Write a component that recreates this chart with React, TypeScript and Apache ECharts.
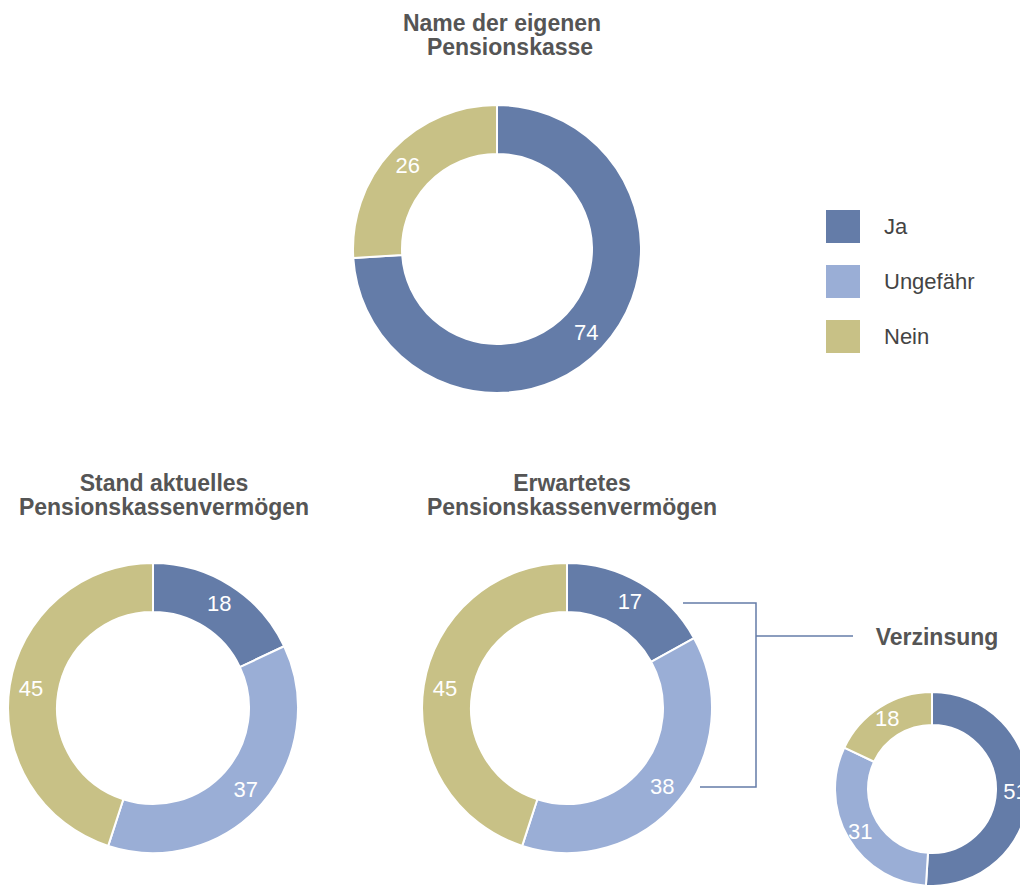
import React, { useEffect, useRef } from "react";
import * as echarts from "echarts";

const categories = ["Ja", "Ungefähr", "Nein"];
const colors = ["#647ca8", "#9aaed6", "#c8c186"];

const nameEigenePK = [74, null, 26];
const standAktuell = [18, 37, 45];
const erwartet = [17, 38, 45];
const verzinsung = [51, 31, 18];

const FONT = "'Liberation Sans', Arial, Helvetica, sans-serif";

function pieData(values: (number | null)[]) {
  return values
    .map((v, i) => (v == null ? null : { name: categories[i], value: v, itemStyle: { color: colors[i] } }))
    .filter((d) => d != null);
}

function pieSeries(values: (number | null)[], center: number[], radius: number[]) {
  return {
    type: "pie",
    center,
    radius,
    startAngle: 90,
    clockwise: true,
    data: pieData(values),
    itemStyle: { borderColor: "#ffffff", borderWidth: 2 },
    label: {
      show: true,
      position: "inside",
      color: "#ffffff",
      fontSize: 22,
      fontFamily: FONT,
      formatter: "{c}",
    },
    labelLine: { show: false },
    emphasis: { disabled: true },
    silent: true,
  };
}

const titleStyle = {
  fontSize: 23,
  fontWeight: "bold",
  color: "#555555",
  fontFamily: FONT,
  lineHeight: 24,
};

export default function App() {
  const ref = useRef<HTMLDivElement>(null);
  useEffect(() => {
    if (!ref.current) return;
    const chart = echarts.init(ref.current, null, { renderer: "svg" });
    chart.setOption({
      animation: false,
      backgroundColor: "#ffffff",
      title: [
        { text: "Name der eigenen", left: 497, top: 6, textAlign: "center", textStyle: titleStyle },
        { text: "Pensionskasse", left: 505, top: 30, textAlign: "center", textStyle: titleStyle },
        { text: "Stand aktuelles\nPensionskassenvermögen", left: 159, top: 466, textAlign: "center", textStyle: titleStyle },
        { text: "Erwartetes\nPensionskassenvermögen", left: 567, top: 466, textAlign: "center", textStyle: titleStyle },
        { text: "Verzinsung", left: 932, top: 620, textAlign: "center", textStyle: titleStyle },
      ],
      legend: {
        orient: "vertical",
        left: 819,
        top: 203,
        icon: "rect",
        itemWidth: 36,
        itemHeight: 35,
        itemGap: 18,
        data: categories,
        selectedMode: false,
        textStyle: {
          fontSize: 22,
          color: "#444444",
          fontFamily: FONT,
          padding: [0, 0, 0, 18],
        },
      },
      graphic: [
        {
          type: "polyline",
          shape: { points: [[683, 603], [756, 603], [756, 787], [700, 787]] },
          style: { stroke: "#647ca8", lineWidth: 1.5, fill: "none" },
          silent: true,
        },
        {
          type: "line",
          shape: { x1: 756, y1: 636, x2: 853, y2: 636 },
          style: { stroke: "#647ca8", lineWidth: 1.5 },
          silent: true,
        },
      ],
      series: [
        pieSeries(nameEigenePK, [497, 249], [95, 144]),
        pieSeries(standAktuell, [153, 708], [96, 145]),
        pieSeries(erwartet, [567, 708], [96, 145]),
        pieSeries(verzinsung, [932, 789], [64, 97]),
      ],
    });
    return () => chart.dispose();
  }, []);
  return (
    <div
      ref={ref}
      style={{ position: "fixed", left: 0, top: 0, width: 1020, height: 885, background: "#fff" }}
    />
  );
}
